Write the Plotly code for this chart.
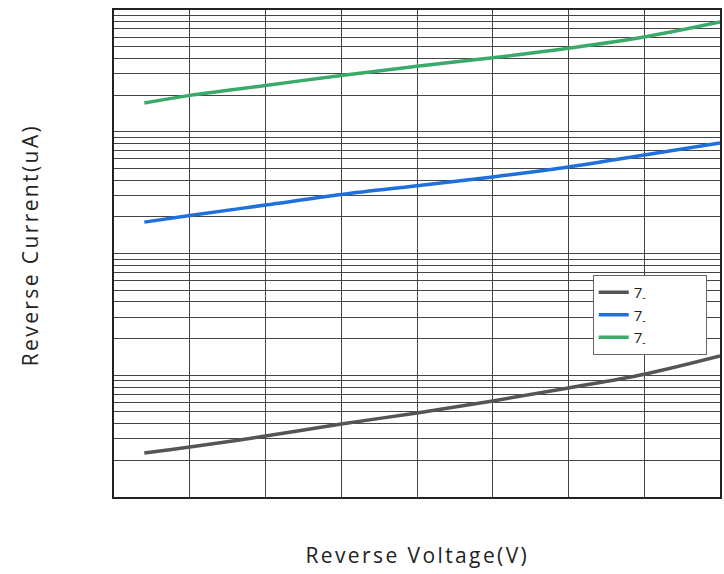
import plotly.graph_objects as go

voltage = [4, 10, 20, 30, 40, 50, 60, 70, 80]
labels = ["7<sub>-</sub>", "7<sub>-</sub>", "7<sub>-</sub>"]
gray_i = [0.0230, 0.0257, 0.0317, 0.0398, 0.0490, 0.0615, 0.0786, 0.102, 0.144]
blue_i = [1.81, 2.05, 2.50, 3.05, 3.60, 4.25, 5.13, 6.44, 8.09]
green_i = [17.2, 19.9, 24.0, 29.0, 34.5, 40.5, 48.5, 60.0, 79.6]
x_title = "Reverse Voltage(V)"
y_title = "Reverse Current(uA)"

series = [(gray_i, "#555555"), (blue_i, "#1f6fdc"), (green_i, "#3aaa6a")]

fig = go.Figure()
for (vals, col), lab in zip(series, labels):
    fig.add_trace(go.Scatter(x=voltage, y=vals, mode="lines", name=lab + "&nbsp;" * 14,
                             line=dict(color=col, width=3.5, shape="spline")))

title_font = dict(family="Open Sans", size=21, color="#222")
fig.update_layout(
    width=724, height=574,
    margin=dict(l=114, r=4, t=10, b=77, autoexpand=False),
    paper_bgcolor="white", plot_bgcolor="white",
    font=dict(family="Open Sans", size=18, color="#222"),
    legend=dict(x=0.79, y=0.456, xanchor="left", yanchor="top",
                bordercolor="#666", borderwidth=1, bgcolor="white",
                font=dict(size=15), tracegroupgap=0),
    annotations=[
        dict(text=x_title, xref="paper", yref="paper", x=0.5, y=-0.119,
             showarrow=False, xanchor="center", yanchor="middle", font=title_font),
        dict(text=y_title, xref="paper", yref="paper", x=-0.139, y=0.518,
             showarrow=False, xanchor="center", yanchor="middle", textangle=-90,
             font=title_font),
    ],
)
fig.update_xaxes(range=[0, 80], dtick=10, showticklabels=False, ticks="",
                 showgrid=True, gridcolor="#444", gridwidth=1,
                 showline=True, linecolor="#222", linewidth=2, mirror=True,
                 zeroline=False)
fig.update_yaxes(type="log", range=[-2, 2], dtick="D1", showticklabels=False, ticks="",
                 showgrid=True, gridcolor="#444", gridwidth=1,
                 showline=True, linecolor="#222", linewidth=2, mirror=True,
                 zeroline=False)

post = (
    "document.body.style.margin='0';"
    "document.querySelectorAll('.annotation-text').forEach(function(e){"
    "e.style.letterSpacing='2.4px';});"
)
fig.write_html("out.html", post_script=post, config={"displayModeBar": False})
